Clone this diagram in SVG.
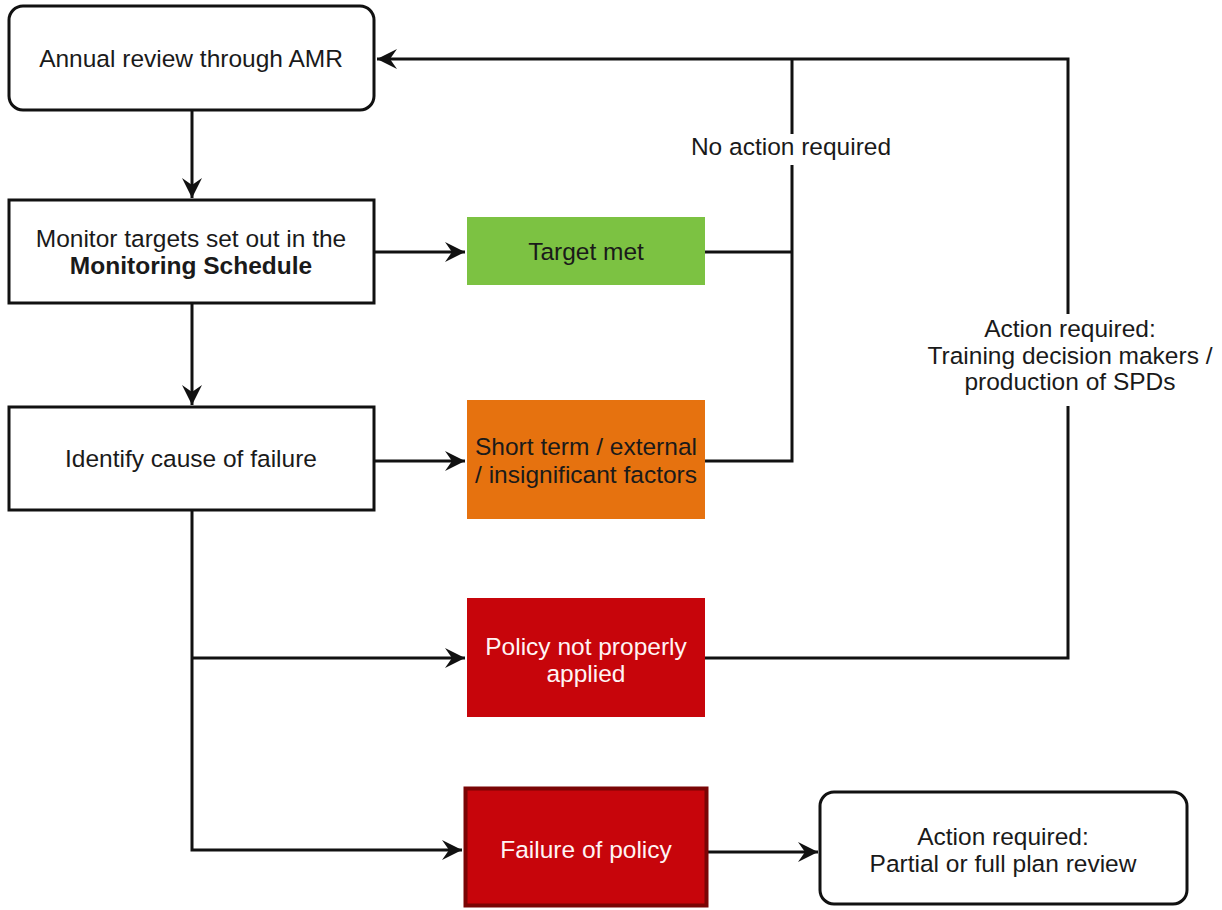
<svg xmlns="http://www.w3.org/2000/svg" width="1222" height="910" viewBox="0 0 1222 910">
  <style>
    text { font-family: "Liberation Sans", Arial, Helvetica, sans-serif; font-size: 24.5px; text-anchor: middle; fill: #1a1a1a; }
    .box { fill: #fff; stroke: #111; stroke-width: 3; }
    .conn { fill: none; stroke: #111; stroke-width: 3; }
    .w { fill: #fff4f4; }
    .b { font-weight: bold; }
  </style>
  <defs>
    <marker id="arr" markerUnits="userSpaceOnUse" markerWidth="24" markerHeight="24" viewBox="-22 -12 24 24" refX="0" refY="0" orient="auto">
      <path d="M0,0 L-20,-10 L-13,0 L-20,10 Z" fill="#111"/>
    </marker>
  </defs>

  <rect width="1222" height="910" fill="#fff"/>

  <g id="connectors">
    <line class="conn" x1="192" y1="110" x2="192" y2="198" marker-end="url(#arr)"/>
    <line class="conn" x1="192" y1="304" x2="192" y2="405" marker-end="url(#arr)"/>
    <line class="conn" x1="375" y1="252" x2="465" y2="252" marker-end="url(#arr)"/>
    <line class="conn" x1="375" y1="461" x2="465" y2="461" marker-end="url(#arr)"/>
    <path class="conn" d="M192,511 V850 H462" marker-end="url(#arr)"/>
    <path class="conn" d="M192,658 H465" marker-end="url(#arr)"/>
    <path class="conn" d="M708,852 H818" marker-end="url(#arr)"/>
    <path class="conn" d="M705,252 H792"/>
    <path class="conn" d="M705,461 H792 V59"/>
    <path class="conn" d="M705,658 H1068 V59 H377" marker-end="url(#arr)"/>
    <g id="label-no-action">
      <rect x="690" y="134" width="203" height="31" fill="#fff"/>
      <text x="791" y="155">No action required</text>
    </g>
    <g id="label-action-training">
      <rect x="928" y="314" width="286" height="92" fill="#fff"/>
      <text x="1070" y="337">Action required:</text>
      <text x="1070" y="364">Training decision makers /</text>
      <text x="1070" y="390">production of SPDs</text>
    </g>
  </g>

  <g id="annual-review">
    <rect class="box" x="9" y="6" width="365" height="104" rx="14"/>
    <text x="191" y="67">Annual review through AMR</text>
  </g>

  <g id="monitor-targets">
    <rect class="box" x="9" y="200" width="365" height="103"/>
    <text x="191" y="247">Monitor targets set out in the</text>
    <text x="191" y="274" class="b">Monitoring Schedule</text>
  </g>

  <g id="identify-cause">
    <rect class="box" x="9" y="407" width="365" height="103"/>
    <text x="191" y="467">Identify cause of failure</text>
  </g>

  <g id="target-met">
    <rect x="467" y="217" width="238" height="68" fill="#7cc242"/>
    <text x="586" y="260" fill="#1a2a10">Target met</text>
  </g>

  <g id="short-term">
    <rect x="467" y="400" width="238" height="119" fill="#e6720f"/>
    <text x="586" y="455" fill="#2a1005">Short term / external</text>
    <text x="586" y="483" fill="#2a1005">/ insignificant factors</text>
  </g>

  <g id="policy-not-applied">
    <rect x="467" y="598" width="238" height="119" fill="#c7050b"/>
    <text x="586" y="655" class="w">Policy not properly</text>
    <text x="586" y="682" class="w">applied</text>
  </g>

  <g id="failure-of-policy">
    <rect x="465.5" y="788.5" width="241" height="117" fill="#c7050b" stroke="#7a0505" stroke-width="4"/>
    <text x="586" y="858" class="w">Failure of policy</text>
  </g>

  <g id="plan-review">
    <rect class="box" x="820" y="792" width="367" height="112" rx="14"/>
    <text x="1003" y="845">Action required:</text>
    <text x="1003" y="872">Partial or full plan review</text>
  </g>
</svg>
